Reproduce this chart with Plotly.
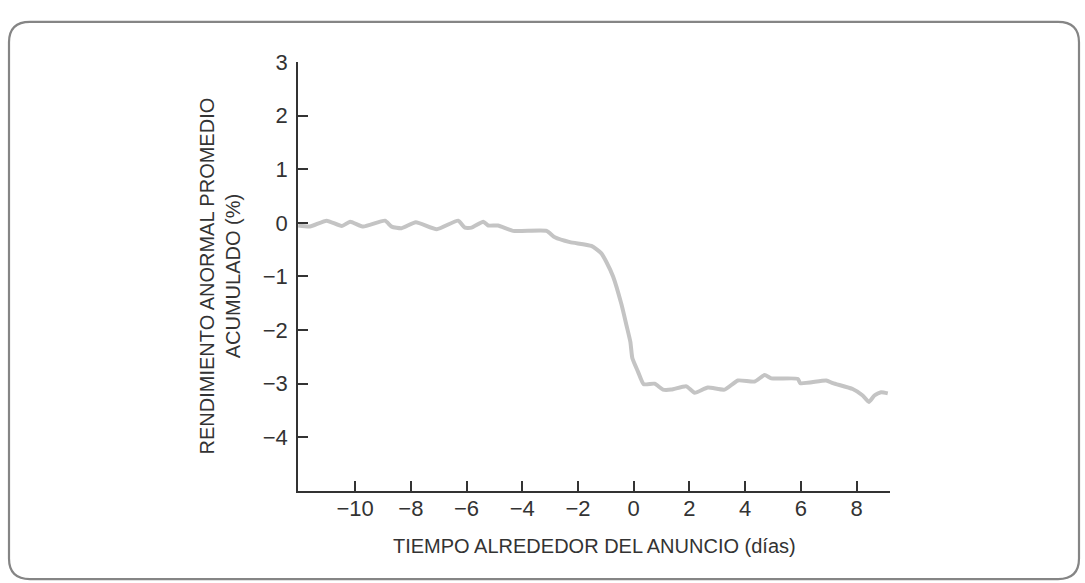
import plotly.graph_objects as go

# Data (days around announcement, cumulative abnormal return %)
days = [-12.04, -11.62, -11.02, -10.48, -10.18, -9.71, -8.93, -8.69, -8.33, -7.82,
        -7.07, -6.30, -6.06, -5.82, -5.40, -5.22, -4.87, -4.33, -3.13, -2.83,
        -2.29, -1.52, -1.16, -0.98, -0.74, -0.44, -0.26, -0.12, -0.05, 0.15,
        0.36, 0.75, 1.05, 1.35, 1.89, 2.19, 2.66, 3.26, 3.74, 4.34,
        4.70, 4.94, 5.89, 5.98, 6.91, 7.15, 7.86, 8.22, 8.44, 8.64,
        8.88, 9.12]
car = [-0.05, -0.07, 0.04, -0.06, 0.02, -0.07, 0.04, -0.07, -0.10, 0.01,
       -0.12, 0.04, -0.09, -0.09, 0.02, -0.05, -0.05, -0.15, -0.15, -0.27,
       -0.36, -0.43, -0.57, -0.73, -1.00, -1.52, -1.91, -2.22, -2.52, -2.77,
       -3.01, -3.00, -3.11, -3.11, -3.05, -3.17, -3.07, -3.11, -2.94, -2.96,
       -2.84, -2.90, -2.91, -2.99, -2.94, -2.99, -3.10, -3.22, -3.34, -3.22,
       -3.16, -3.18]

x_ticks = [-10, -8, -6, -4, -2, 0, 2, 4, 6, 8]
y_ticks = [-4, -3, -2, -1, 0, 1, 2, 3]
x_title = "TIEMPO ALREDEDOR DEL ANUNCIO (días)"
y_title = "RENDIMIENTO ANORMAL PROMEDIO<br>ACUMULADO (%)"

W, H = 1085, 583
FONT = "Liberation Sans, Arial, sans-serif"
TXT = "#333333"
AX = "#333333"

def px(x):
    return x / W

def py(y):
    return 1 - y / H

fig = go.Figure()
fig.add_trace(go.Scatter(
    x=days, y=car, mode="lines",
    line=dict(color="#c4c4c4", width=4, shape="spline", smoothing=0.5),
    hoverinfo="skip", showlegend=False,
))

fig.update_layout(
    width=W, height=H,
    margin=dict(l=0, r=0, t=0, b=0),
    paper_bgcolor="white", plot_bgcolor="white",
    font=dict(family=FONT, color=TXT, size=20),
    xaxis=dict(
        domain=[px(298), px(890)], range=[-12.05, 9.2],
        tickmode="array", tickvals=x_ticks,
        ticks="inside", ticklen=10, tickwidth=1.5, tickcolor=AX,
        showline=True, linecolor=AX, linewidth=1.5,
        showgrid=False, zeroline=False,
        tickfont=dict(size=22, color=TXT),
        ticklabelstandoff=-3,
    ),
    yaxis=dict(
        domain=[py(489), py(51)], range=[-5, 3],
        tickmode="array", tickvals=y_ticks,
        ticks="inside", ticklen=10, tickwidth=1.5, tickcolor=AX,
        showline=True, linecolor=AX, linewidth=1.5,
        showgrid=False, zeroline=False,
        tickfont=dict(size=22, color=TXT),
        ticklabelstandoff=4,
    ),
)

fig.add_annotation(
    text=x_title, xref="paper", yref="paper",
    x=px(594), y=py(545), xanchor="center", yanchor="middle",
    showarrow=False, font=dict(size=20, color=TXT, family=FONT),
)
fig.add_annotation(
    text=y_title, xref="paper", yref="paper",
    x=px(220), y=py(270), xanchor="center", yanchor="middle",
    textangle=-90, showarrow=False,
    font=dict(size=20, color=TXT, family=FONT),
)

# rounded border around the figure
x0, x1, y0, y1, r = 9, 1079, 10, 579, 21
path = (
    f"M {px(x0 + r)},{py(y0)} L {px(x1 - r)},{py(y0)} "
    f"Q {px(x1)},{py(y0)} {px(x1)},{py(y0 + r)} "
    f"L {px(x1)},{py(y1 - r)} "
    f"Q {px(x1)},{py(y1)} {px(x1 - r)},{py(y1)} "
    f"L {px(x0 + r)},{py(y1)} "
    f"Q {px(x0)},{py(y1)} {px(x0)},{py(y1 - r)} "
    f"L {px(x0)},{py(y0 + r)} "
    f"Q {px(x0)},{py(y0)} {px(x0 + r)},{py(y0)} Z"
)
fig.add_shape(type="path", path=path, xref="paper", yref="paper",
              line=dict(color="#858585", width=2.2), fillcolor="rgba(0,0,0,0)",
              layer="below")

fig.write_html("out.html", config={"displayModeBar": False},
               post_script="document.body.style.margin='0';document.body.style.overflow='hidden';")
